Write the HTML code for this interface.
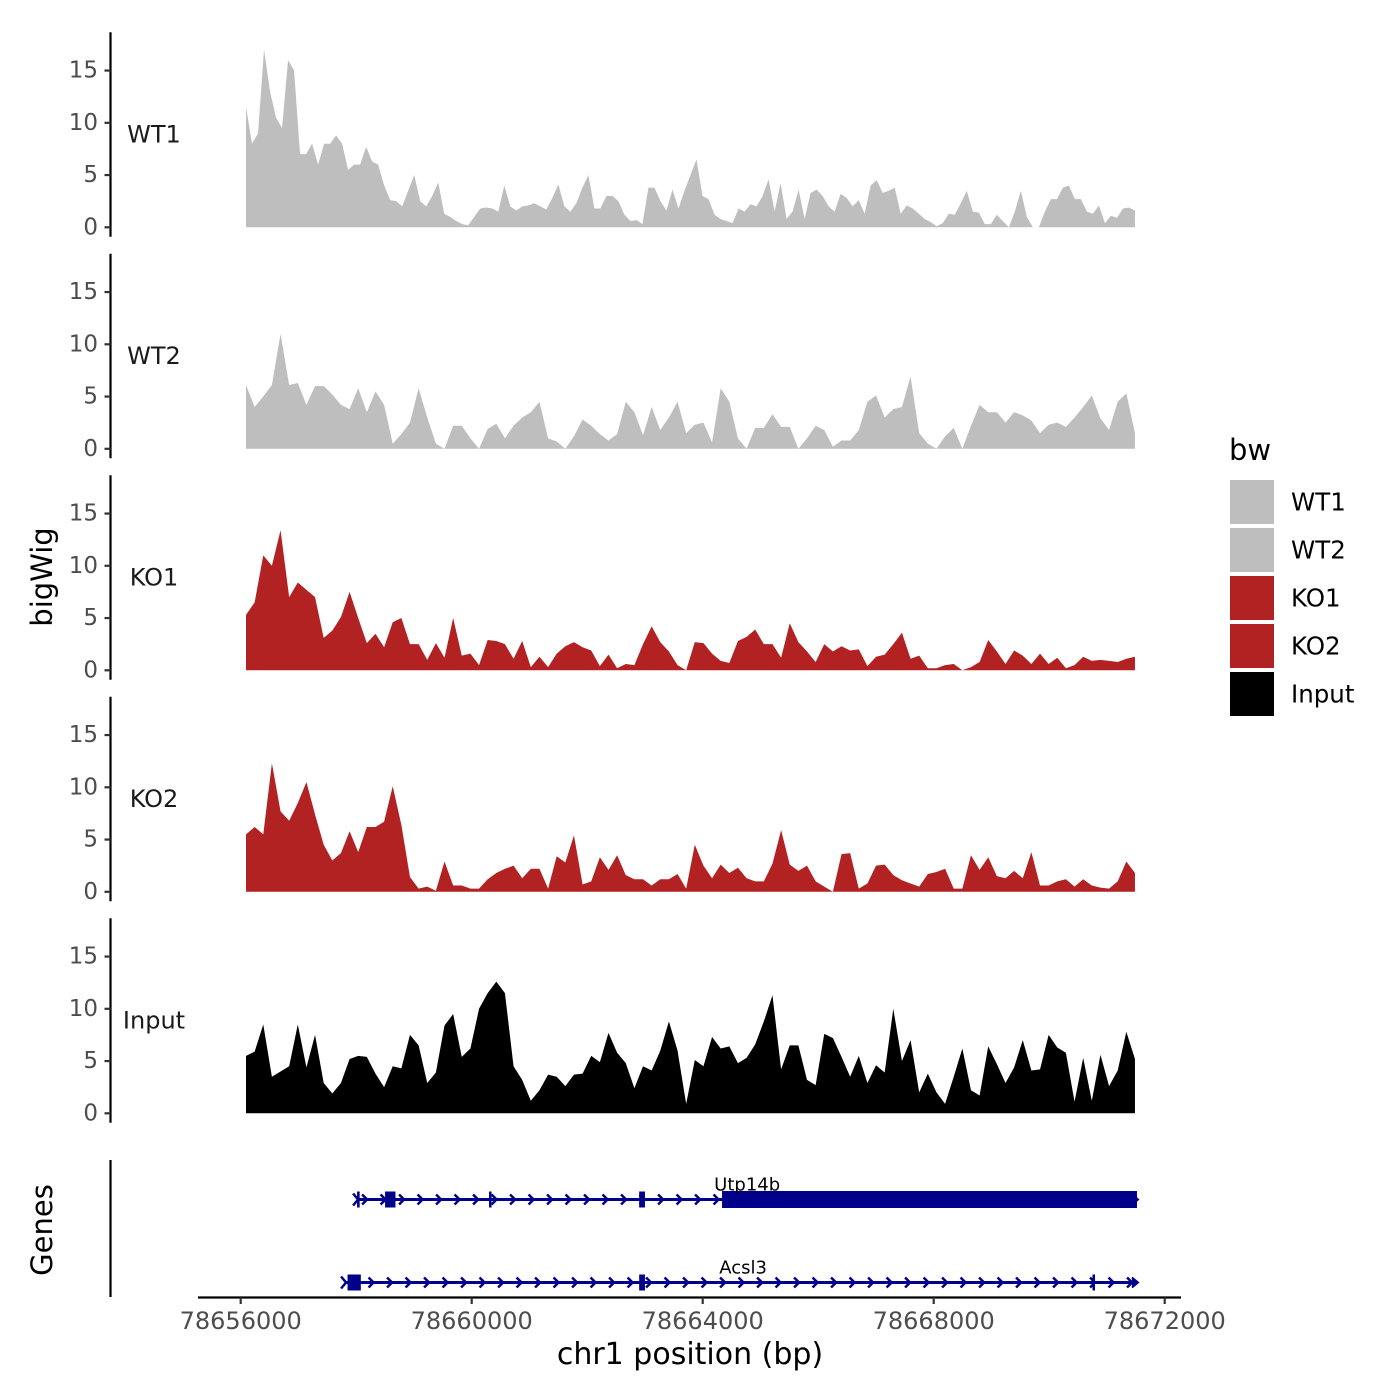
<!DOCTYPE html>
<html><head><meta charset="utf-8"><style>
html,body{margin:0;padding:0;background:#fff;}
svg{display:block;font-family:"DejaVu Sans","Liberation Sans",sans-serif;}
</style></head><body>
<svg id="chart" width="1400" height="1400" viewBox="0 0 1400 1400" xmlns="http://www.w3.org/2000/svg">
<g id="tracks"></g>
<g id="genes"></g>
<g id="xaxis"></g>
<text x="42" y="577" transform="rotate(-90 42 577)" text-anchor="middle" dominant-baseline="central" font-size="29" fill="#000">bigWig</text>
<text x="42" y="1230" transform="rotate(-90 42 1230)" text-anchor="middle" dominant-baseline="central" font-size="29" fill="#000">Genes</text>
<text x="690" y="1364" text-anchor="middle" font-size="30" fill="#000">chr1 position (bp)</text>
<g id="legend"></g>
</svg>
<script>
const NS = "http://www.w3.org/2000/svg";
// ---- data ----
const sampleNames = ["WT1","WT2","KO1","KO2","Input"];
const sampleColors = ["#bebebe","#bebebe","#b22222","#b22222","#000000"];
const dataStart = 78656092;
const dataEnd = 78671485;
const yTicks = [0,5,10,15];
const xTicks = [78656000,78660000,78664000,78668000,78672000];
const wt1 = [11.5,8,9,17,13,10.5,9.5,16,15,7,7,8,6,8,8,8.8,8,5.5,6,6,7.7,6.3,6,4,2.6,2.5,2,3.5,5,2.5,2,3,4.3,1.3,1,0.6,0.3,0.2,1,1.8,1.9,1.8,1.5,4,2,1.6,2,2.1,2.3,2,1.7,2.8,4.1,2,1.5,2.3,3.8,5,1.8,1.8,3,3,2.5,1.2,0.6,0.7,0.3,3.8,3.8,2.5,1.6,3.6,1.8,3.5,5,6.5,3,2.7,1.2,0.8,0.6,0.4,1.8,1.5,2.2,2,3,4.6,1.5,4.2,0.8,1.5,3.6,0.8,3.3,3.6,3,2,1.5,3.2,2.8,2,2.6,1.3,4,4.5,3.3,3.5,3.8,1.3,2.1,1.8,1.3,0.8,0.5,0.1,0.4,1.3,1.2,2.3,3.5,1.5,1.4,0.3,0.3,1.2,0.6,0,1.5,3.5,1,0,0,1.5,2.7,2.7,3.8,4,2.7,2.7,1.5,1.3,2.1,0.4,1.1,0.9,1.8,1.9,1.6];
const wt2 = [6.1,4,5,6.1,11,6.1,6.3,4.2,6,6,5.2,4.2,3.8,5.8,3.5,5.5,4.2,0.5,1.4,2.5,5.8,3,0.5,0,2.2,2.2,1,0,1.9,2.4,1,2.2,3,3.5,4.5,1,0.7,0,1.2,2.8,2.2,1.4,0.8,1.4,4.5,3.5,1.3,4,1.8,3,4.5,1.5,2.3,2.5,0.6,5.8,4.5,1,0,2,2,3.3,2.1,2.1,0,1,2.2,1.8,0.2,0.8,0.8,1.8,4.5,5.1,3,3.8,4,6.9,1.5,0.5,0,1.2,2,0,2.2,4.2,3.5,3.5,2.5,3.5,3.2,2.7,1.5,2.3,2.5,2.1,3,4,5.1,2.9,1.8,4.5,5.3,1.5];
const ko1 = [5.3,6.5,11,10,13.4,7,8.4,7.7,7,3.1,3.8,5.1,7.5,5,2.6,3.5,2.2,4.6,5,2.5,2.5,1,2.6,1.2,5,1.4,1.6,0.5,2.9,2.8,2.5,1.1,2.8,0.3,1.3,0.3,1.6,2.3,2.7,2.2,1.9,0.4,1.5,0.2,0.6,0.5,2.5,4.2,2.7,1.8,0.5,0,2.7,2.6,1.6,0.9,0.7,2.8,3.2,3.9,2.5,2.5,1.2,4.5,2.7,1.8,0.8,2.5,1.8,2.3,1.9,2,0.4,1.3,1.5,2.5,3.6,1.1,1.4,0.2,0.2,0.5,0.6,0,0.3,0.8,2.9,1.8,0.6,1.9,1.4,0.6,1.6,0.6,1.2,0.2,0.5,1.3,0.9,1,0.9,0.8,1.1,1.3];
const ko2 = [5.5,6.2,5.5,12.3,7.7,6.8,8.5,10.5,7.4,4.5,3,3.7,5.8,3.8,6.2,6.2,6.7,10.1,6.4,1.4,0.3,0.5,0.1,2.9,0.6,0.6,0.3,0.3,1.2,1.8,2.2,2.5,1.3,2.2,2.2,0.3,3.4,2.8,5.4,0.7,1,3.3,2.1,3.5,1.6,1.2,1.2,0.6,1.2,1.2,1.7,0.3,4.5,2.5,1.3,2.6,1.8,2.3,1.3,1,1,2.7,5.9,2.6,2,2.5,1,0.5,0,3.6,3.7,0.3,0.8,2.5,2.6,1.6,1.1,0.8,0.5,1.7,1.9,2.2,0.3,0.3,3.5,2.1,3.3,1.5,1.3,2,1.3,3.8,0.6,0.6,1,1.2,0.5,1.2,0.6,0.4,0.3,1,2.9,1.8];
const input = [5.5,5.9,8.5,3.5,4,4.5,8.5,4.4,7.5,2.9,1.9,2.9,5.2,5.5,5.4,3.8,2.5,4.5,4.3,7.5,6.5,2.9,3.9,8.4,9.5,5.4,6.2,10,11.5,12.6,11.5,4.5,3.2,1.2,2.2,3.7,3.5,2.6,3.7,3.8,5.5,4.9,7.7,5.8,4.8,2.4,4.5,4.1,6,8.8,6,0.9,5.1,4.5,7.3,6.2,6.4,4.8,5.3,6.6,8.8,11.3,4.2,6.5,6.5,3.2,2.7,7.6,7.2,5.4,3.5,5.5,2.9,4.6,3.9,10,5,7,2,3.8,2,0.9,3.5,6.2,2.2,1.7,6.4,4.7,2.9,4.4,7,4.1,4.2,7.5,6.3,5.8,1.1,5.3,1.2,5.6,2.6,4.1,7.8,5.2];
const seriesValues = [wt1, wt2, ko1, ko2, input];
const geneNames = ["Utp14b","Acsl3"];
const geneStarts = [78658015, 78657807];
const geneEnds = [78671520, 78671520];
const geneExonStarts = [[78658015,78658500,78660300,78662900,78664335],[78657850,78662900,78670750]];
const geneExonEnds = [[78658060,78658680,78660340,78663000,78671520],[78658080,78663000,78670780]];
const geneLabelPos = [78664770, 78664700];

// ---- scales ----
const X0 = 240.7, PXBP = 231/4000;
function xs(bp){ return X0 + (bp - 78656000) * PXBP; }
const panelBase = [227.3, 448.8, 670.3, 891.8, 1113.3];
const PXV = 10.45;
function ys(p, v){ return panelBase[p] - v * PXV; }

function mk(tag, attrs, parent){ const e=document.createElementNS(NS,tag); for(const k in attrs) e.setAttribute(k,attrs[k]); parent.appendChild(e); return e; }

const tracks = document.getElementById('tracks');
seriesValues.forEach((vals, p) => {
  const g = mk('g', {}, tracks);
  
  
  const n = vals.length;
  let d = 'M' + xs(dataStart).toFixed(2) + ',' + ys(p,0).toFixed(2);
  vals.forEach((v,i) => {
    const bp = dataStart + (dataEnd - dataStart) * i / (n - 1);
    d += 'L' + xs(bp).toFixed(2) + ',' + ys(p,v).toFixed(2);
  });
  d += 'L' + xs(dataEnd).toFixed(2) + ',' + ys(p,0).toFixed(2) + 'Z';
  const area = mk('path', {d:d, fill:sampleColors[p], stroke:'none'}, g);
  
  
  const ax = mk('line', {x1:110.5, x2:110.5, y1:ys(p,0)-195, y2:ys(p,0)+9.5, stroke:'#000', 'stroke-width':2.2}, g);
  
  
  yTicks.forEach(t => {
    const tk = mk('line', {x1:104.5, x2:110.5, y1:ys(p,t), y2:ys(p,t), stroke:'#333', 'stroke-width':2.2}, g);
    
    
    const tl = mk('text', {x:98, y:ys(p,t), 'text-anchor':'end', 'dominant-baseline':'central', 'font-size':23, fill:'#4d4d4d'}, g);
    tl.textContent = t;
    
    
  });
  const lab = mk('text', {x:154, y:ys(p,0)-93, 'text-anchor':'middle', 'dominant-baseline':'central', 'font-size':24, fill:'#1a1a1a'}, g);
  lab.textContent = sampleNames[p];
  
  
});

// genes
const genes = document.getElementById('genes');
const gax = mk('line', {x1:110.5, x2:110.5, y1:1160, y2:1297, stroke:'#000', 'stroke-width':2.2}, genes);


const geneY = [1199.5, 1282.5];
geneNames.forEach((nm, gi) => {
  const g = mk('g', {}, genes);
  
  
  const y = geneY[gi], x1 = xs(geneStarts[gi]), x2 = xs(geneEnds[gi]);
  mk('line', {x1:x1, x2:x2, y1:y, y2:y, stroke:'#00008b', 'stroke-width':3}, g);
  for (let x = x1 + 8; x < x2 - 4; x += 18.5) {
    mk('path', {d:`M${x-3},${y-5}L${x+2},${y}L${x-3},${y+5}`, fill:'none', stroke:'#00008b', 'stroke-width':2.5}, g);
  }
  mk('path', {d:`M${x1-4},${y-6}L${x1+1},${y}L${x1-4},${y+6}`, fill:'none', stroke:'#00008b', 'stroke-width':2.5}, g);
  geneExonStarts[gi].forEach((s, k) => {
    const e = geneExonEnds[gi][k];
    const w = Math.max(2.5, xs(e) - xs(s));
    const big = (e - s) > 1000;
    const h = big ? 17 : 16;
    const r = mk('rect', {x:xs(s), y:y-h/2, width:w, height:h, fill:'#00008b'}, g);
    
    
  });
  mk('path', {d:`M${x2-5},${y-5}L${x2+1},${y}L${x2-5},${y+5}`, fill:'#00008b', stroke:'#00008b', 'stroke-width':2}, g);
  const t = mk('text', {x:xs(geneLabelPos[gi]), y:y-9, 'text-anchor':'middle', 'font-size':18, fill:'#000'}, g);
  t.textContent = nm;
  
  
});

// x axis
const xaxis = document.getElementById('xaxis');
const xl = mk('line', {x1:198, x2:1181, y1:1297.5, y2:1297.5, stroke:'#000', 'stroke-width':2.2}, xaxis);


xTicks.forEach(t => {
  const tk = mk('line', {x1:xs(t), x2:xs(t), y1:1297.5, y2:1304, stroke:'#333', 'stroke-width':2.2}, xaxis);
  
  
  const tl = mk('text', {x:xs(t), y:1329, 'text-anchor':'middle', 'font-size':24, fill:'#4d4d4d'}, xaxis);
  tl.textContent = t;
  
  
});

// legend
const legend = document.getElementById('legend');
const lt = mk('text', {x:1229, y:460, 'font-size':29, fill:'#000'}, legend);
lt.textContent = 'bw';


sampleNames.forEach((nm, i) => {
  const y = 480 + i * 48;
  const r = mk('rect', {x:1230, y:y, width:44, height:44, fill:sampleColors[i]}, legend);
  
  
  const t = mk('text', {x:1291, y:y+22, 'dominant-baseline':'central', 'font-size':24.5, fill:'#000'}, legend);
  t.textContent = nm;
  
  
});
</script>
</body></html>
